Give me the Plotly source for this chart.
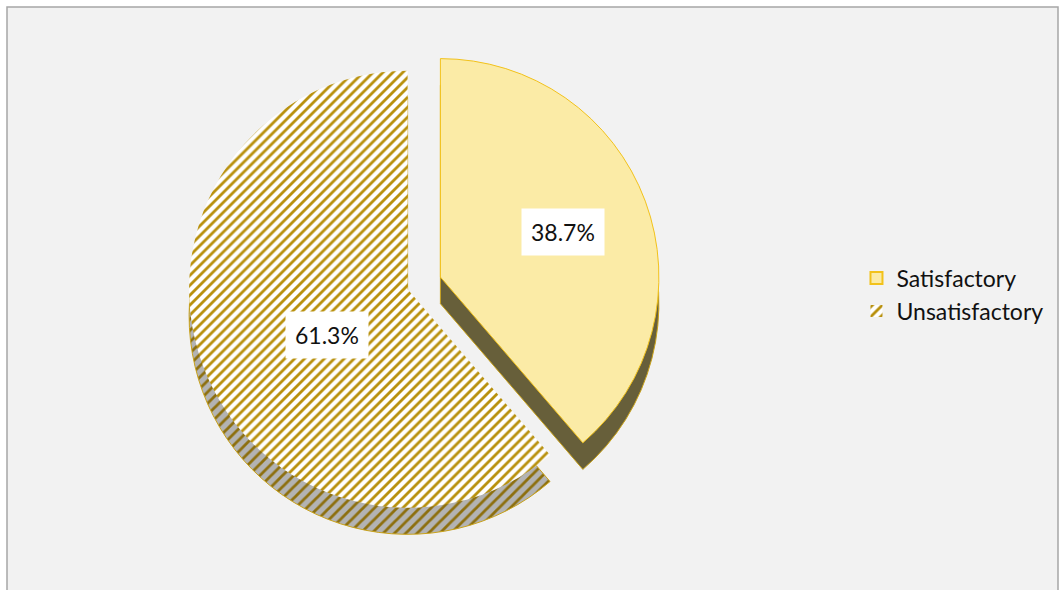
import math
import plotly.graph_objects as go

categories = ["Satisfactory", "Unsatisfactory"]
values = [38.7, 61.3]
label_texts = ["38.7%", "61.3%"]

W, H = 1060, 590
pull = 0.08
dom_x = [0.02, 0.78]
dom_y = [0.12, 0.92]
depth = 0.045  # side offset in paper fraction

fig = go.Figure()

# depth / side layer (shifted down)
fig.add_trace(go.Pie(
    labels=categories, values=values, sort=False, direction="clockwise", rotation=0,
    pull=[pull, pull], textinfo="none", hoverinfo="skip", showlegend=False,
    domain=dict(x=dom_x, y=[dom_y[0] - depth, dom_y[1] - depth]),
    marker=dict(
        colors=["#675f3a", "#a9a9a9"],
        line=dict(color="#c9a21a", width=1),
        pattern=dict(shape=["", "/"], fgcolor=["#675f3a", "#8d6f0e"],
                     bgcolor=["#675f3a", "#b3b3b3"], size=8, solidity=0.35),
    ),
))

# top layer
fig.add_trace(go.Pie(
    labels=categories, values=values, sort=False, direction="clockwise", rotation=0,
    pull=[pull, pull], textinfo="none", hoverinfo="label+percent",
    domain=dict(x=dom_x, y=dom_y),
    marker=dict(
        colors=["#fbeba6", "#ffffff"],
        line=dict(color=["#f2c21b", "rgba(0,0,0,0)"], width=1),
        pattern=dict(shape=["", "/"], fgcolor=["#fbeba6", "#b8900c"],
                     bgcolor=["#fbeba6", "#ffffff"], size=7, solidity=0.4),
    ),
))

# label positions derived from the values
cx = (dom_x[0] + dom_x[1]) / 2 * W
cy = (dom_y[0] + dom_y[1]) / 2 * H
r = min((dom_x[1] - dom_x[0]) * W, (dom_y[1] - dom_y[0]) * H) / 2 / (1 + pull)
total = sum(values)
start = 0.0
for v, t in zip(values, label_texts):
    ang = start + v / total * 360 / 2
    start += v / total * 360
    d = (pull + 0.6) * r
    px = cx + d * math.sin(math.radians(ang))
    py = cy + d * math.cos(math.radians(ang))
    fig.add_annotation(x=px / W, y=py / H, xref="paper", yref="paper", text=t,
                       showarrow=False, bgcolor="white", borderpad=9,
                       font=dict(family="Lato, Open Sans, sans-serif", size=23, color="#111"))

fig.update_layout(
    width=W, height=H, margin=dict(l=0, r=0, t=0, b=0),
    paper_bgcolor="#ffffff", plot_bgcolor="#f2f2f2",
    legend=dict(x=0.808, y=0.565, xanchor="left", yanchor="top",
                font=dict(family="Lato, Open Sans, sans-serif", size=23, color="#111"),
                bgcolor="rgba(0,0,0,0)", itemsizing="constant"),
)
fig.add_shape(type="rect", xref="paper", yref="paper",
              x0=7 / W, x1=1058 / W, y0=-0.02, y1=1 - 7 / H,
              fillcolor="#f2f2f2", line=dict(color="#a6a6a6", width=1.5), layer="below")

fig.write_html("out.html")
